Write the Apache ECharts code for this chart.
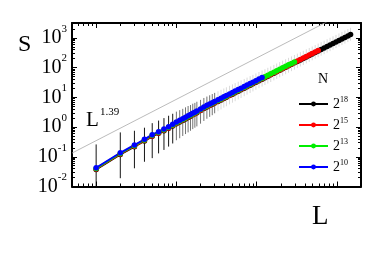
<!DOCTYPE html>
<html><head><meta charset="utf-8">
<script src="https://cdn.jsdelivr.net/npm/echarts@6/dist/echarts.min.js"></script>
<style>html,body{margin:0;padding:0;background:#fff}#c{width:382px;height:254px}</style>
</head><body><div id="c"></div>
<script>
// ---- data ----
var L = [1,2,3,4,5,6,7,8,9,10,11,12,13,14,15,16,17,18,20,22,24,26,28,30,33,36,39,42,46,50,54,59,64,70,76,83,90,98,107,117,127,138,150,164,178,194,211,230,250,272,296,322,351,382,416,453,493,537,585,637,694,756,823,896,976,1063,1157,1260,1372,1482];
var S10 = [0.0427,0.1365,0.249,0.387,0.553,0.698,0.859,1.028,1.230,1.479,1.679,1.905,2.138,2.399,2.630,2.917,3.162,3.467,4.074,4.764,5.370,5.984,6.622,7.278,8.279,9.311,10.40,11.48,13.00,14.55,16.18,18.24,20.37,23.01,25.76,29.04,32.36,36.39,41.02,46.24];
var S13 = [0.0406,0.1297,0.2366,0.3677,0.5254,0.6631,0.8161,0.9766,1.1685,1.405,1.595,1.810,2.031,2.279,2.499,2.771,3.004,3.294,3.870,4.526,5.102,5.685,6.291,6.914,7.865,8.845,9.88,10.91,12.35,13.82,15.37,17.33,19.35,21.86,24.47,27.59,30.74,34.57,38.97,43.93,49.17,55.04,61.62,69.62,77.76,87.44,98.1,110.3,123.5,138.6,155.5];
var S15 = [0.0389,0.1242,0.2266,0.3522,0.5032,0.6352,0.7817,0.9355,1.1193,1.346,1.528,1.734,1.946,2.183,2.393,2.654,2.877,3.155,3.707,4.335,4.887,5.445,6.026,6.623,7.534,8.473,9.46,10.45,11.83,13.24,14.72,16.60,18.54,20.94,23.44,26.43,29.45,33.11,37.33,42.08,47.10,52.73,59.02,66.68,74.48,83.76,94.0,105.7,118.3,132.8,149.0,166.7,187.6,210.4,236.6,265.4,297.8,334.2,375.8];
var S18 = [0.0376,0.1201,0.2191,0.3406,0.4866,0.6142,0.7559,0.9046,1.0824,1.302,1.478,1.676,1.881,2.111,2.314,2.567,2.783,3.051,3.585,4.192,4.726,5.266,5.827,6.405,7.286,8.194,9.15,10.10,11.44,12.80,14.24,16.05,17.93,20.25,22.67,25.56,28.48,32.02,36.10,40.69,45.55,50.99,57.08,64.49,72.03,81.00,90.9,102.2,114.4,128.4,144.1,161.2,181.4,203.5,228.8,256.7,288.0,323.2,363.4,407.8,458.7,514.6,578.8,649.4,728.6,819.4,919.6,1031,1157,1287];
var cloudHi = [0.26,0.66,0.75,0.95,1.35,1.65,2.0,2.4,2.8,3.3,3.7,4.1,4.6,5.1,5.5,6.1,6.5,7.1,8.2,9.5,10.6,11.7,12.9,14.1,16.0,17.9,19.8,21.7,24.4,27.2,30.0,33.5,37.1,41.5,46.0,51.4,56.9,63.5,71.0,79.5,88.5,98.5,109,123,137,153,171,191,213,238,266,295,329,367,411,458,512,573,641,716,803,897,1005,1125,1258,1410,1580,1765,1975,2180];
var cloudLo = [0.0101,0.019,0.041,0.068,0.09,0.13,0.17,0.22,0.28,0.36,0.42,0.5,0.58,0.66,0.75,0.85,0.95,1.05,1.3,1.6,1.9,2.2,2.5,2.9,3.4,3.9,4.5,5.0,5.8,6.6,7.4,8.5,9.5,10.9,12.3,14.0,15.8,17.9,20.3,23.0,25.9,29.1,32.7,37.1,41.6,47.0,53.0,59.8,67.3,75.8,85.4,96.4,109,122,138,156,176,198,223,251,282,318,357,401,451,508,570,641,720,800];
var refL = [0.5, 800];
var refS = [0.133, 3780];
var seriesNames = ['2^18','2^15','2^13','2^10'];
var seriesSup = ['18','15','13','10'];
var yTickValues = [0.01,0.1,1,10,100,1000];
var yTickExps = ['-2','-1','0','1','2','3'];
var yMinor = [0.02,0.03,0.04,0.05,0.06,0.07,0.08,0.09,0.2,0.3,0.4,0.5,0.6,0.7,0.8,0.9,2,3,4,5,6,7,8,9,20,30,40,50,60,70,80,90,200,300,400,500,600,700,800,900,2000,3000];
var xMajor = [1,10,100,1000];
var xMinor = [0.5,0.6,0.7,0.8,0.9,2,3,4,5,6,7,8,9,20,30,40,50,60,70,80,90,200,300,400,500,600,700,800,900,2000];

function pairs(xs, ys){ var o=[]; for(var i=0;i<ys.length;i++) o.push([xs[i], ys[i]]); return o; }
var cloud = []; for (var i=0;i<L.length;i++) cloud.push([L[i], cloudLo[i], cloudHi[i]]);

var serif = 'Liberation Serif';
var supMap = {}; for (var i=0;i<seriesNames.length;i++) supMap[seriesNames[i]] = seriesSup[i];
var expMap = {}; for (var i=0;i<yTickValues.length;i++) expMap[yTickValues[i]] = yTickExps[i];

function xAx(pos, ticks, len, showLine){
  return {type:'log', logBase:10, min:0.5, max:2000, position:pos, gridIndex:0,
    axisLine:{show:showLine, lineStyle:{color:'#000', width:2}},
    axisTick:{show:true, inside:true, length:len, customValues:ticks, lineStyle:{color:'#000', width:1}},
    axisLabel:{show:false}, splitLine:{show:false}, minorTick:{show:false}};
}
function yAx(pos, ticks, len, showLine, labels){
  return {type:'log', logBase:10, min:0.01, max:3162.28, position:pos, gridIndex:0,
    axisLine:{show:showLine, lineStyle:{color:'#000', width:2}},
    axisTick:{show:true, inside:true, length:len, customValues:ticks, lineStyle:{color:'#000', width:1}},
    axisLabel: labels ? {show:true, customValues:yTickValues, margin:5,
      formatter:function(v){ var e = expMap[v]; if(e===undefined){ e = String(Math.round(Math.log10(v))); } return '{b|10}{s|'+e+'}'; },
      rich:{b:{fontFamily:serif, fontSize:20, lineHeight:20, color:'#000'},
            s:{fontFamily:serif, fontSize:11, lineHeight:11, color:'#000', padding:[0,0,18,0]}}} : {show:false},
    splitLine:{show:false}, minorTick:{show:false}};
}

var colors = {'2^18':'#000000','2^15':'#ff0000','2^13':'#00ee00','2^10':'#0000ff'};
var sData = {'2^18':S18,'2^15':S15,'2^13':S13,'2^10':S10};

var series = [
  {type:'custom', name:'cloud', xAxisIndex:0, yAxisIndex:0, z:1, silent:true,
   data:cloud,
   renderItem:function(params, api){
     var lv = api.value(0);
     var p1 = api.coord([lv, api.value(1)]);
     var p2 = api.coord([lv, api.value(2)]);
     var op = lv <= 9 ? 0.92 : (lv <= 30 ? 0.55 : 0.15);
     return {type:'line', shape:{x1:p1[0], y1:p1[1], x2:p2[0], y2:p2[1]},
       style:{stroke:'rgba(0,0,0,'+op+')', lineWidth:1}};
   }},
  {type:'line', name:'ref', data:pairs(refL, refS), xAxisIndex:0, yAxisIndex:0, z:1,
   symbol:'none', lineStyle:{color:'#aaaaaa', width:0.8}, silent:true, clip:true}
];
seriesNames.forEach(function(n){
  series.push({type:'line', name:n, data:pairs(L, sData[n]), xAxisIndex:0, yAxisIndex:0, z:2,
    symbol:'circle', symbolSize:5.5, color:colors[n],
    itemStyle:{color:colors[n]}, lineStyle:{color:colors[n], width:2}, animation:false});
});

var chart = echarts.init(document.getElementById('c'), null, {renderer:'canvas'});
chart.setOption({
  animation:false,
  backgroundColor:'#fff',
  grid:{left:72, top:23, width:289, height:163.5, containLabel:false},
  xAxis:[xAx('bottom', xMajor, 5, true), xAx('bottom', xMinor, 3, false), xAx('top', xMajor, 5, true), xAx('top', xMinor, 3, false)],
  yAxis:[yAx('left', yTickValues, 5, true, true), yAx('left', yMinor, 3, false, false), yAx('right', yTickValues, 5, true, false), yAx('right', yMinor, 3, false, false)],
  legend:{data:seriesNames, orient:'vertical', left:293, top:91, itemWidth:29, itemHeight:6, itemGap:5,
    formatter:function(n){ return '{b|2}{s|'+supMap[n]+'}'; },
    textStyle:{rich:{b:{fontFamily:serif, fontSize:14, lineHeight:14, color:'#000'},
                     s:{fontFamily:serif, fontSize:8, lineHeight:8, color:'#000', padding:[0,0,8,0]}}}},
  graphic:[
    {type:'text', left:18, top:33, style:{text:'S', font:'24px "Liberation Serif"', fill:'#000'}},
    {type:'text', left:312, top:203, style:{text:'L', font:'27px "Liberation Serif"', fill:'#000'}},
    {type:'text', left:86, top:110, style:{text:'L', font:'21px "Liberation Serif"', fill:'#000'}},
    {type:'text', left:100, top:107, style:{text:'1.39', font:'11px "Liberation Serif"', fill:'#000'}},
    {type:'text', left:318, top:72, style:{text:'N', font:'14px "Liberation Serif"', fill:'#000'}}
  ],
  series:series
});
</script></body></html>
